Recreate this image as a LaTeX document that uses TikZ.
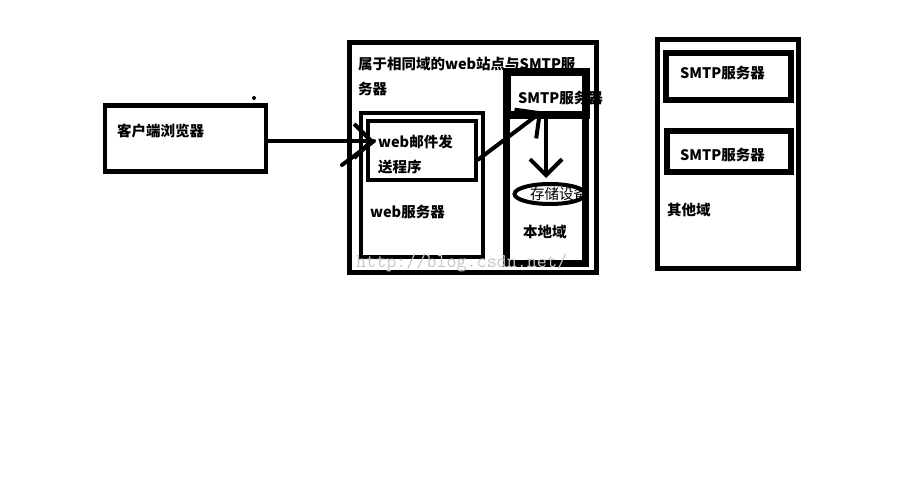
\documentclass[tikz,border=0pt]{standalone}
\usepackage{fontspec}
\newfontfamily\cjk{Noto Sans CJK SC}
\usetikzlibrary{shapes.geometric, arrows.meta, positioning, calc}

\begin{document}
\begin{tikzpicture}[x=1pt, y=-1pt,
    box/.style={rectangle, draw=black, inner sep=0pt, line width=4.5pt},
    lbl/.style={anchor=west, inner sep=0pt, font=\cjk\bfseries\fontsize{14.5}{25}\selectfont, align=left},
    arrow/.style={line width=4pt, line cap=round},
    barb/.style={-{Straight Barb[length=#1pt, width=2*#1pt, line width=4pt]}}]

\useasboundingbox (0,0) rectangle (907,502);

\node (client) [box, minimum width=161pt, minimum height=66pt] at (185.5,138.5) {};
\node (samedomain) [box, line width=5pt, minimum width=247pt, minimum height=230pt] at (472.5,158) {};
\node (webserver) [box, minimum width=122pt, minimum height=144pt] at (422,185) {};
\node (mailer) [box, minimum width=108pt, minimum height=59pt] at (422,150.5) {};
\node (localdomain) [box, line width=7pt, minimum width=79pt, minimum height=192pt] at (546,168) {};
\node (localsmtp) [box, line width=8pt, minimum width=79pt, minimum height=43.5pt] at (546,93.75) {};
\node (storage) [ellipse, draw=black, line width=4pt, inner sep=0pt, minimum width=71pt, minimum height=20pt] at (550,194) {};
\node (otherdomain) [box, line width=5pt, minimum width=141pt, minimum height=229pt] at (727.5,154.5) {};
\node (othersmtpa) [box, line width=6pt, minimum width=125pt, minimum height=47pt] at (728.5,76.5) {};
\node (othersmtpb) [box, line width=6pt, minimum width=124pt, minimum height=41pt] at (729,151.5) {};

\node (clientlbl) [lbl] at (117,131) {客户端浏览器};
\node (samelbl) [lbl, anchor=north west] at (358,57) {属于相同域的web站点与SMTP服\\务器};
\node (mailerlbl) [lbl, anchor=north west] at (378,135) {web邮件发\\送程序};
\node (webserverlbl) [lbl] at (370,212) {web服务器};
\node (localsmtplbl) [lbl] at (518,98) {SMTP服务器};
\node (storagelbl) [lbl, font=\cjk\fontsize{14.5}{17}\selectfont] at (530,194) {存储设备};
\node (locallbl) [lbl] at (523,232) {本地域};
\node (othersmtpalbl) [lbl] at (680,73) {SMTP服务器};
\node (othersmtpblbl) [lbl] at (680,155) {SMTP服务器};
\node (otherlbl) [lbl] at (667,210) {其他域};
\node (watermark) [anchor=west, inner sep=0pt, text=black!22, font=\ttfamily\fontsize{19.5}{20}\selectfont] at (356,263) {http://blog.csdn.net/};

\coordinate (intip) at (374,141);
\coordinate (stroke) at (342,165);
\coordinate (uptip) at ([shift={(-4pt,8pt)}]localsmtp.south);
\fill (254,98) circle (2);

\draw [arrow, barb=17] (client.east |- intip) -- (intip);
\draw [arrow] (stroke) -- (intip);
\draw [arrow, barb=18] ([yshift=-9pt]mailer.east) -- (uptip);
\draw [arrow, barb=16] (localsmtp.south) -- ([yshift=4pt]localsmtp.south |- storage.north);

\end{tikzpicture}
\end{document}
